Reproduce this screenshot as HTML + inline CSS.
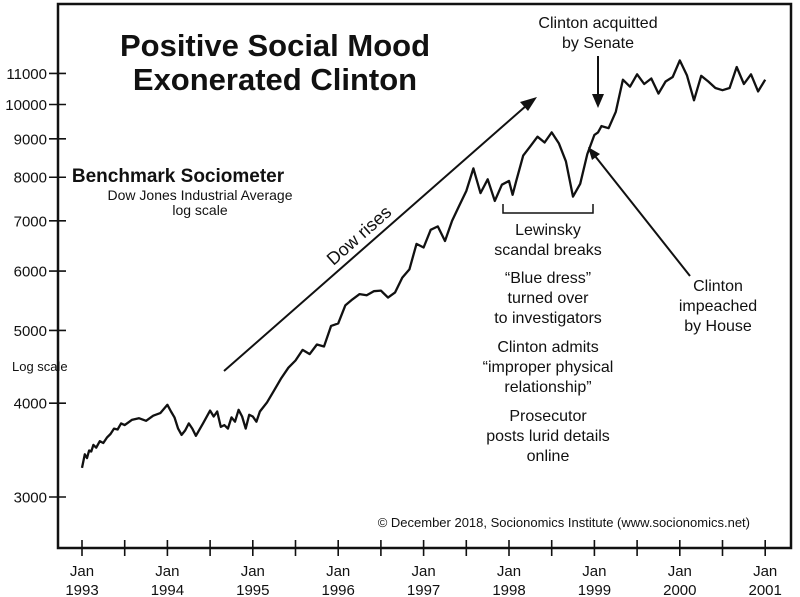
<!DOCTYPE html>
<html><head><meta charset="utf-8"><style>
body{margin:0;background:#fff;}
svg{display:block;font-family:"Liberation Sans",sans-serif;}
</style></head><body>
<svg id="chart" width="800" height="597" viewBox="0 0 800 597">
<rect x="0" y="0" width="800" height="597" fill="#fff"/>
<rect x="58" y="4" width="733" height="544" fill="none" stroke="#111" stroke-width="2.5"/>
<g id="yaxis"></g>
<g id="xaxis"></g>
<path id="series" fill="none" stroke="#111" stroke-width="2.3" stroke-linejoin="round"/>
<text x="275" y="56" font-size="31" font-weight="bold" text-anchor="middle" fill="#111">Positive Social Mood</text>
<text x="275" y="90" font-size="31" font-weight="bold" text-anchor="middle" fill="#111">Exonerated Clinton</text>
<text x="178" y="182" font-size="19" font-weight="bold" text-anchor="middle" fill="#111">Benchmark Sociometer</text>
<text x="200" y="200" font-size="14" text-anchor="middle" fill="#111">Dow Jones Industrial Average</text>
<text x="200" y="215" font-size="14" text-anchor="middle" fill="#111">log scale</text>
<text x="12" y="371" font-size="13" fill="#111">Log scale</text>
<text x="750" y="527" font-size="13" text-anchor="end" fill="#111">© December 2018, Socionomics Institute (www.socionomics.net)</text>
<g>
<line x1="224" y1="371" x2="527" y2="105" stroke="#111" stroke-width="2"/>
<polygon points="537,97 520,102 528,111" fill="#111"/>
</g>
<text x="0" y="0" font-size="18" text-anchor="middle" fill="#111" transform="translate(363,240) rotate(-41.5)">Dow rises</text>
<text x="598" y="28" font-size="16" text-anchor="middle" fill="#111">Clinton acquitted</text>
<text x="598" y="48" font-size="16" text-anchor="middle" fill="#111">by Senate</text>
<g>
<line x1="598" y1="56" x2="598" y2="96" stroke="#111" stroke-width="2"/>
<polygon points="592,94 604,94 598,108" fill="#111"/>
</g>
<g>
<line x1="690" y1="276" x2="595" y2="156" stroke="#111" stroke-width="2"/>
<polygon points="588,147 600,154 592,160" fill="#111"/>
</g>
<path d="M503,204 V213 H593 V204" fill="none" stroke="#111" stroke-width="1.5"/>
<g font-size="16" text-anchor="middle" fill="#111">
<text x="548" y="235">Lewinsky</text>
<text x="548" y="255">scandal breaks</text>
<text x="548" y="283">“Blue dress”</text>
<text x="548" y="303">turned over</text>
<text x="548" y="323">to investigators</text>
<text x="548" y="352">Clinton admits</text>
<text x="548" y="372">“improper physical</text>
<text x="548" y="392">relationship”</text>
<text x="548" y="421">Prosecutor</text>
<text x="548" y="441">posts lurid details</text>
<text x="548" y="461">online</text>
</g>
<g font-size="16" text-anchor="middle" fill="#111">
<text x="718" y="291">Clinton</text>
<text x="718" y="311">impeached</text>
<text x="718" y="331">by House</text>
</g>
</svg>
<script>
const yTicks=[3000,4000,5000,6000,7000,8000,9000,10000,11000];
const xYears=[1993,1994,1995,1996,1997,1998,1999,2000,2001];
const startYear=1993;
const dowValues=[
3280,3420,3380,3460,3450,3520,3490,3560,3540,3600,3640,3700,3690,3760,3740,3800,3820,3790,3850,3880,
3980,3900,3830,3700,3630,3680,3760,3700,3620,3760,3910,3840,3900,3720,3740,3700,3830,3780,3920,3840,3700,3860,
3840,3780,3900,4010,4160,4320,4460,4560,4710,4650,4790,4760,5070,5110,
5400,5500,5590,5570,5640,5650,5530,5620,5880,6030,6520,6450,
6810,6880,6580,7000,7330,7670,8220,7620,7950,7440,7820,7910,
7580,7900,8550,8800,9060,8900,9180,8880,8400,7540,7840,8590,9110,9180,
9360,9300,9780,10790,10560,10970,10650,10830,10340,10730,10880,11450,
10940,10130,10920,10730,10520,10450,10520,11220,10650,10970,10410,10790,
10600
];
const dowMonths=[
0,0.4,0.7,1,1.3,1.6,2,2.5,3,3.5,4,4.5,5,5.5,6,7,8,9,10,11,
12,12.5,13,13.5,14,14.5,15,15.5,16,17,18,18.5,19,19.5,20,20.5,21,21.5,22,22.5,23,23.5,
24,24.5,25,26,27,28,29,30,31,32,33,34,35,
36,37,38,39,40,41,42,43,44,45,46,47,
48,49,50,51,52,53,54,55,56,57,58,59,
60,60.5,61,62,63,64,65,66,67,68,69,70,71,72,
72.5,73,74,75,76,77,78,79,80,81,82,83,
84,85,86,87,88,89,90,91,92,93,94,95,
96
];
function yScale(v){return 497-326*Math.log(v/3000);}
function xScale(y){return 82+(y-1993)*85.4;}
const NS="http://www.w3.org/2000/svg";
const ya=document.getElementById('yaxis');
yTicks.forEach(v=>{
 const y=yScale(v);
 const l=document.createElementNS(NS,'line');
 l.setAttribute('x1',49);l.setAttribute('x2',66);l.setAttribute('y1',y);l.setAttribute('y2',y);
 l.setAttribute('stroke','#111');l.setAttribute('stroke-width','1.6');
 
 
 ya.appendChild(l);
 const t=document.createElementNS(NS,'text');
 t.setAttribute('x',47);t.setAttribute('y',y+5.5);t.setAttribute('text-anchor','end');
 t.setAttribute('font-size','15');t.setAttribute('fill','#111');t.textContent=v;
 
 
 ya.appendChild(t);
});
const xa=document.getElementById('xaxis');
for(let h=0;h<=16;h++){
 const x=xScale(1993+h/2);
 const l=document.createElementNS(NS,'line');
 l.setAttribute('x1',x);l.setAttribute('x2',x);l.setAttribute('y1',540);l.setAttribute('y2',556);
 l.setAttribute('stroke','#111');l.setAttribute('stroke-width','1.6');
 
 
 xa.appendChild(l);
}
xYears.forEach(yr=>{
 const x=xScale(yr);
 const t1=document.createElementNS(NS,'text');
 t1.setAttribute('x',x);t1.setAttribute('y',576);t1.setAttribute('text-anchor','middle');
 t1.setAttribute('font-size','15');t1.setAttribute('fill','#111');t1.textContent='Jan';
 
 
 xa.appendChild(t1);
 const t2=document.createElementNS(NS,'text');
 t2.setAttribute('x',x);t2.setAttribute('y',595);t2.setAttribute('text-anchor','middle');
 t2.setAttribute('font-size','15');t2.setAttribute('fill','#111');t2.textContent=yr;
 
 
 xa.appendChild(t2);
});
let d='';
dowValues.forEach((v,i)=>{
 const x=xScale(startYear+dowMonths[i]/12), y=yScale(v);
 d+=(i?'L':'M')+x.toFixed(1)+','+y.toFixed(1);
});
document.getElementById('series').setAttribute('d',d);
</script>
</body></html>
